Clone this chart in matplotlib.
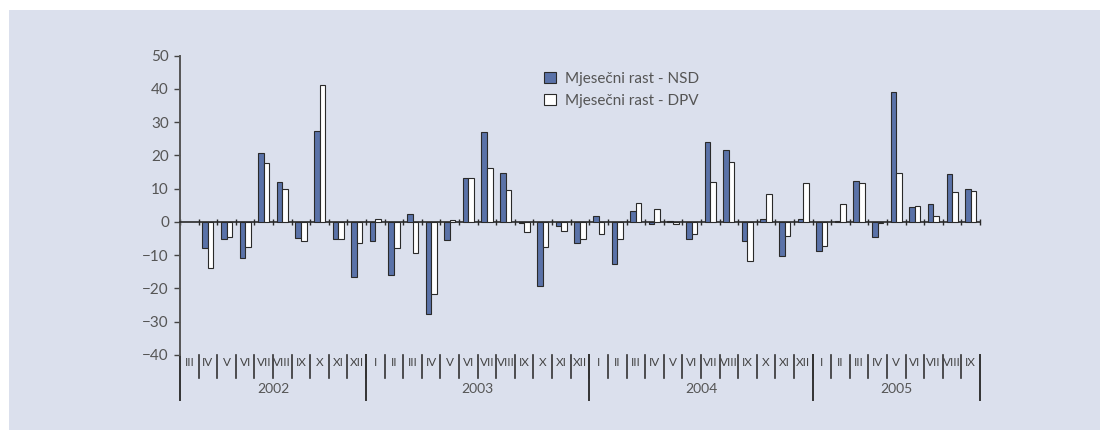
import numpy as np
import matplotlib
matplotlib.use('Agg')
import matplotlib.pyplot as plt
from matplotlib.patches import Rectangle

plt.rcParams['font.family'] = ['Lato', 'DejaVu Sans']

# months from III 2002 to IX 2005
months = ['III', 'IV', 'V', 'VI', 'VII', 'VIII', 'IX', 'X', 'XI', 'XII',
          'I', 'II', 'III', 'IV', 'V', 'VI', 'VII', 'VIII', 'IX', 'X', 'XI', 'XII',
          'I', 'II', 'III', 'IV', 'V', 'VI', 'VII', 'VIII', 'IX', 'X', 'XI', 'XII',
          'I', 'II', 'III', 'IV', 'V', 'VI', 'VII', 'VIII', 'IX']
years = ['2002', '2003', '2004', '2005']
year_counts = [10, 12, 12, 9]

nsd = [np.nan, -7.7, -5.2, -10.8, 20.8, 12.1, -4.9, 27.2, -5.2, -16.6,
       -5.8, -16.0, 2.4, -27.6, -5.3, 13.1, 27.1, 14.7, -0.2, -19.2, -1.2, -6.2,
       1.9, -12.8, 3.4, -0.7, 0.4, -5.2, 23.9, 21.7, -5.6, 0.9, -10.4, 0.9,
       -8.6, 0.4, 12.3, -4.5, 39.1, 4.6, 5.3, 14.4, 10.0]
dpv = [np.nan, -14.0, -4.6, -7.6, 17.8, 9.9, -5.6, 41.0, -5.0, -6.4,
       0.9, -7.8, -9.2, -21.8, 0.6, 13.3, 16.1, 9.7, -3.0, -7.4, -2.7, -5.2,
       -3.6, -5.0, 5.6, 3.9, -0.7, -3.7, 11.9, 18.0, -11.7, 8.3, -4.3, 11.6,
       -7.1, 5.3, 11.7, -0.2, 14.8, 4.8, 1.7, 9.1, 9.4]

bg = '#dbe0ed'
blue = '#5a72a8'
edge = '#2a2a2a'
grey = '#555555'

fig = plt.figure(figsize=(11, 4.3), dpi=100)
fig.patch.set_facecolor('white')
fig.patches.append(Rectangle((9 / 1100, 0), 1, 1 - 10 / 430, transform=fig.transFigure,
                             facecolor=bg, edgecolor='none', zorder=-10))

ax = fig.add_axes([180 / 1100, 1 - 355 / 430, 800 / 1100, 299.5 / 430])
ax.set_facecolor('none')

x = np.arange(len(months))
w = 0.3
ax.bar(x - w / 2, nsd, w, color=blue, edgecolor=edge, linewidth=0.8, label='Mjesečni rast - NSD', zorder=3)
ax.bar(x + w / 2, dpv, w, color='white', edgecolor=edge, linewidth=0.8, label='Mjesečni rast - DPV', zorder=3)

ax.set_xlim(-0.5, len(months) - 0.5)
ax.set_ylim(-40, 50)
ax.set_yticks(np.arange(-40, 51, 10))
ax.tick_params(axis='y', direction='out', length=4, width=1, color='#444444', labelcolor=grey, labelsize=11, pad=4)

for s in ['top', 'right']:
    ax.spines[s].set_visible(False)
ax.spines['left'].set_color('#555555')
ax.spines['left'].set_linewidth(1.4)
ax.spines['bottom'].set_position(('data', 0))
ax.spines['bottom'].set_color(edge)
ax.spines['bottom'].set_linewidth(1.2)
ax.set_xticks(np.arange(len(months) + 1) - 0.5)
ax.set_xticklabels([])
ax.tick_params(axis='x', direction='inout', length=5, width=1, color=edge)

# category labels below the plot
tr = ax.get_xaxis_transform()
h = 299.5
y_short = -23 / h
y_long = -45 / h
for b in range(1, len(months)):
    ax.plot([b - 0.5, b - 0.5], [0, y_short], transform=tr, color='#333333', lw=1.2, clip_on=False)
bounds = np.concatenate([[0], np.cumsum(year_counts)]) - 0.5
for b in bounds:
    ax.plot([b, b], [0, y_long], transform=tr, color='#333333', lw=1.4, clip_on=False)
for i, m in enumerate(months):
    ax.text(i, -8 / h, m, transform=tr, ha='center', va='center', fontsize=8.5, color='#444444')
for yr, a, b in zip(years, bounds[:-1], bounds[1:]):
    ax.text((a + b) / 2, -34 / h, yr, transform=tr, ha='center', va='center', fontsize=10, color=grey)

leg = ax.legend(loc='upper left', bbox_to_anchor=(538 / 1100, 1 - 66 / 430), bbox_transform=fig.transFigure,
                frameon=False, fontsize=11, handlelength=0.75, handleheight=0.75, handletextpad=0.6,
                labelspacing=0.5, borderaxespad=0)
for t in leg.get_texts():
    t.set_color(grey)

fig.savefig('out.png', dpi=100, facecolor=fig.get_facecolor())
